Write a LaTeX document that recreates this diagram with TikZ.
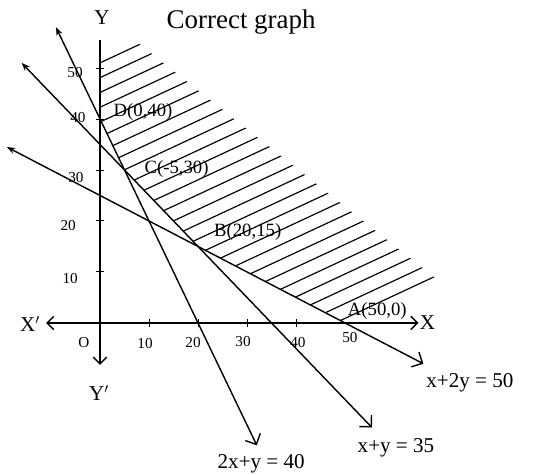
\documentclass[tikz,border=0pt]{standalone}
\usepackage{fontspec}
\setmainfont{Liberation Serif}
\usetikzlibrary{arrows.meta,positioning}
\tikzset{
    graphline/.style={{Stealth[length=2.5mm]}-{Straight Barb[length=2.5mm]},line width=1.2pt},
    axisline/.style={line width=1.2pt},
    hatchline/.style={line width=1pt},
    tickmark/.style={line width=0.8pt},
    ptlabel/.style={font=\fontsize{16}{18}\selectfont,anchor=west,inner sep=1pt},
    ticklabel/.style={font=\fontsize{13}{15}\selectfont,inner sep=1pt},
    eqlabel/.style={font=\fontsize{18}{20}\selectfont,inner sep=1pt},
    titletext/.style={font=\fontsize{23}{26}\selectfont,inner sep=0pt}
}
\begin{document}
\begin{tikzpicture}[x=0.147cm,y=0.153cm]
    \useasboundingbox (-20.41,-29.8) rectangle (90,63.33);
    \coordinate (O) at (0,0);
    \coordinate (A) at (50,0);
    \coordinate (B) at (20,15);
    \coordinate (C) at (5,30);
    \coordinate (D) at (0,40);
    \coordinate (xleft) at (-11,0);
    \coordinate (xright) at (65,0);
    \coordinate (ytop) at (0,55.5);
    \coordinate (ybottom) at (0,-8.2);
    \coordinate (lineatop) at (-9,58);
    \coordinate (lineabot) at (32,-24);
    \coordinate (linebtop) at (-16,51);
    \coordinate (linebbot) at (55.5,-20.5);
    \coordinate (linectop) at (-19,34.5);
    \coordinate (linecbot) at (66,-8);
    % hatched region
    \begin{scope}
        \clip (0,55) -- (7,55.5) -- (69.5,8) -- (58,0) -- (A) -- (B) -- (C) -- (D) -- cycle;
        \foreach \c in {51,48.1,...,-22}
            \draw[hatchline] (-1,{-0.448+\c}) -- (75,{0.448*75+\c});
    \end{scope}
    \draw[axisline,{Straight Barb[length=2mm]}-{Straight Barb[length=2mm]}] (xleft) -- (xright);
    \draw[axisline,-{Straight Barb[length=2mm]}] (ytop) -- (ybottom);
    \foreach \t in {10,20,30,40}
        \draw[tickmark] (\t,-0.7) -- (\t,0.7);
    \foreach \t in {10,20,30,40,50}
        \draw[tickmark] (-0.8,\t) -- (0.8,\t);
    \draw[graphline] (lineatop) -- (lineabot);
    \draw[graphline] (linebtop) -- (linebbot);
    \draw[graphline] (linectop) -- (linecbot);
    \node[titletext] (title) at (28.8,59) {Correct graph};
    \node[ptlabel] (labD) at (2.5,41.4) {D(0,40)};
    \node[ptlabel] (labC) at (8.8,30.2) {C(-5,30)};
    \node[ptlabel] (labB) at (23,17.8) {B(20,15)};
    \node[ptlabel] (labA) at (50.3,2.4) {A(50,0)};
    \node[eqlabel,right=0pt of xright] (labX) {X};
    \node[eqlabel] (labXp) at (-14.3,-0.2) {X$'$};
    \node[eqlabel] (labY) at (0.4,59.8) {Y};
    \node[eqlabel] (labYp) at (-0.2,-13.7) {Y$'$};
    \node[ticklabel] (labO) at (-3.3,-3.8) {O};
    \node[ticklabel] (tx10) at (9.2,-4.1) {10};
    \node[ticklabel] (tx20) at (19,-3.9) {20};
    \node[ticklabel] (tx30) at (29.2,-3.7) {30};
    \node[ticklabel] (tx40) at (40.4,-3.9) {40};
    \node[ticklabel] (tx50) at (51,-2.9) {50};
    \node[ticklabel] (ty10) at (-6.1,8.8) {10};
    \node[ticklabel] (ty20) at (-6.5,19.2) {20};
    \node[ticklabel] (ty30) at (-4.9,28.6) {30};
    \node[ticklabel] (ty40) at (-4.5,40.2) {40};
    \node[ticklabel] (ty50) at (-5.1,49.2) {50};
    \node[eqlabel] (eqc) at (75.5,-11.8) {x+2y = 50};
    \node[eqlabel] (eqb) at (60.4,-24.5) {x+y = 35};
    \node[eqlabel] (eqa) at (32.9,-27.6) {2x+y = 40};
\end{tikzpicture}
\end{document}
